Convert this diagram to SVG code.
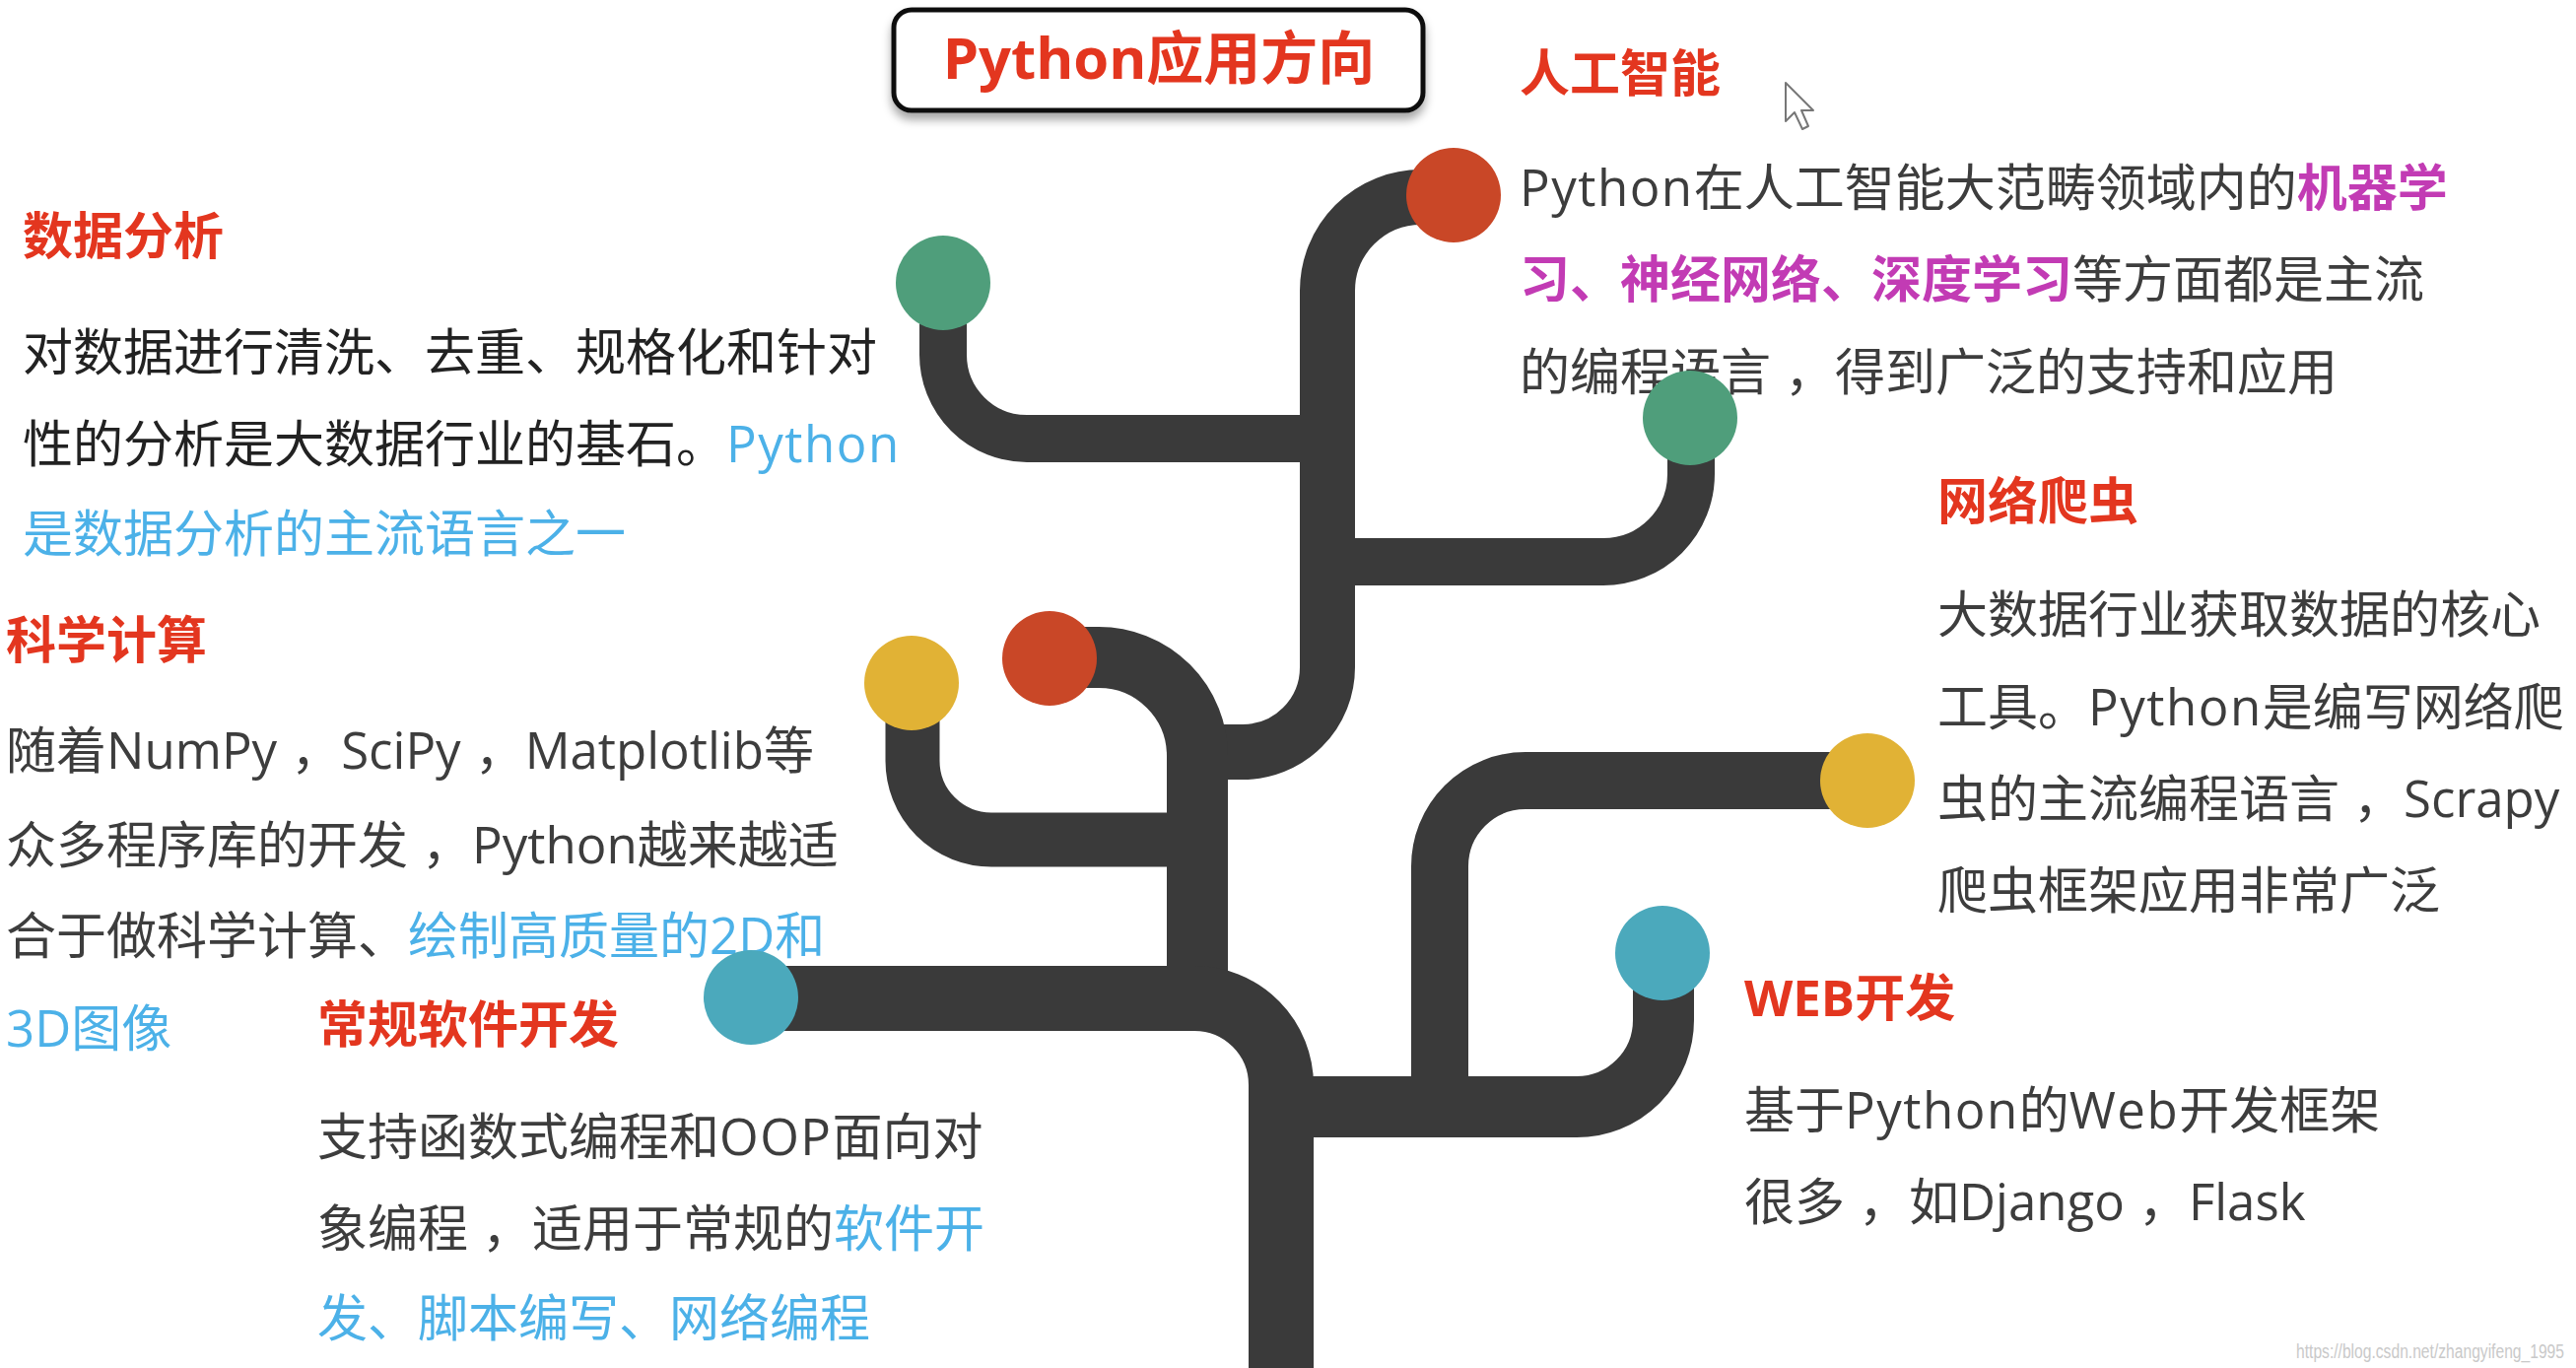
<svg xmlns="http://www.w3.org/2000/svg" width="2614" height="1388" viewBox="0 0 2614 1388">
<style>
  text { font-family: 'Open Sans', 'Noto Sans CJK SC', sans-serif; font-size: 51px; fill: #3d3d3d; }
  .h { font-weight: bold; fill: #e3361f; }
  .dark { fill: #222; }
  .blue { fill: #4cb1e8; }
  .pur { font-weight: bold; fill: #c23bb4; }
  .l { letter-spacing: 1.5px; }
  .br { fill: none; stroke: #3a3a3a; stroke-linecap: butt; stroke-linejoin: round; }
  .red { fill: #c94727; }
  .green { fill: #4f9e7b; }
  .yellow { fill: #e1b235; }
  .teal { fill: #4ba9bc; }
</style>
<defs>
  <filter id="shadow" x="-10%" y="-20%" width="120%" height="160%">
    <feDropShadow dx="0" dy="7" stdDeviation="5" flood-color="#000" flood-opacity="0.35"/>
  </filter>
</defs>
<rect width="2614" height="1388" fill="#ffffff"/>

<g id="title">
  <rect x="907" y="10" width="537" height="102" rx="18" fill="#fff" stroke="#111" stroke-width="5" filter="url(#shadow)"/>
  <text x="1176" y="80" text-anchor="middle" class="h" style="font-size:58px">Python应用方向</text>
</g>

<g id="node-ai">
  <text x="1542" y="93" class="h">人工智能</text>
  <text x="1542" y="209"><tspan class="l">Python</tspan>在人工智能大范畴领域内的<tspan class="pur">机器学</tspan></text>
  <text x="1542" y="302"><tspan class="pur">习、神经网络、深度学习</tspan>等方面都是主流</text>
  <text x="1542" y="396">的编程语言<tspan dx="14">，得到广泛的支持和应用</tspan></text>
</g>

<g id="node-data">
  <text x="23" y="258" class="h">数据分析</text>
  <text x="23" y="376" class="dark">对数据进行清洗、去重、规格化和针对</text>
  <text x="23" y="469" class="dark">性的分析是大数据行业的基石。<tspan class="blue l">Python</tspan></text>
  <text x="23" y="560" class="blue">是数据分析的主流语言之一</text>
</g>

<g id="node-science">
  <text x="6" y="668" class="h">科学计算</text>
  <text x="6" y="780">随着NumPy<tspan dx="14">，SciPy</tspan><tspan dx="14">，Matplotlib等</tspan></text>
  <text x="6" y="876">众多程序库的开发<tspan dx="14">，Python越来越适</tspan></text>
  <text x="6" y="968">合于做科学计算、<tspan class="blue">绘制高质量的2D和</tspan></text>
  <text x="6" y="1062" class="blue">3D图像</text>
</g>

<g id="node-software">
  <text x="322" y="1058" class="h">常规软件开发</text>
  <text x="322" y="1172">支持函数式编程和<tspan class="l">OOP</tspan>面向对</text>
  <text x="322" y="1265">象编程<tspan dx="14">，适用于常规的</tspan><tspan class="blue">软件开</tspan></text>
  <text x="322" y="1356" class="blue">发、脚本编写、网络编程</text>
</g>

<g id="node-crawler">
  <text x="1966" y="527" class="h">网络爬虫</text>
  <text x="1966" y="642">大数据行业获取数据的核心</text>
  <text x="1966" y="736">工具。<tspan class="l">Python</tspan>是编写网络爬</text>
  <text x="1966" y="829">虫的主流编程语言<tspan dx="14">，Scrapy</tspan></text>
  <text x="1966" y="922">爬虫框架应用非常广泛</text>
</g>

<g id="node-web">
  <text x="1770" y="1031" class="h">WEB开发</text>
  <text x="1770" y="1145">基于<tspan class="l">Python</tspan>的<tspan class="l">Web</tspan>开发框架</text>
  <text x="1770" y="1238">很多<tspan dx="14">，如Django</tspan><tspan dx="14">，Flask</tspan></text>
</g>

<g id="connectors">
  <path class="br" stroke-width="56" d="M 1475 200 L 1442 200 A 95 95 0 0 0 1347 295 L 1347 677 A 86 86 0 0 1 1261 763 L 1215 763"/>
  <path class="br" stroke-width="48" d="M 957 287 L 957 360 A 85 85 0 0 0 1042 445 L 1347 445"/>
  <path class="br" stroke-width="48" d="M 1716 424 L 1716 481 A 89 89 0 0 1 1627 570 L 1347 570"/>
  <path class="br" stroke-width="62" d="M 1065 667 L 1115 667 A 100 100 0 0 1 1215 767 L 1215 1013"/>
  <path class="br" stroke-width="55" d="M 926 693 L 926 772 A 80 80 0 0 0 1006 852 L 1215 852"/>
  <path class="br" stroke-width="66" d="M 762 1013 L 1212 1013 A 88 88 0 0 1 1300 1101 L 1300 1388"/>
  <path class="br" stroke-width="62" d="M 1300 1123 L 1600 1123 A 88 88 0 0 0 1688 1035 L 1688 967"/>
  <path class="br" stroke-width="58" d="M 1461 1123 L 1461 879 A 87 87 0 0 1 1548 792 L 1895 792"/>
</g>

<g id="dots">
  <circle id="dot-ai" class="red" cx="1475" cy="198" r="48"/>
  <circle id="dot-data" class="green" cx="957" cy="287" r="48"/>
  <circle id="dot-green-right" class="green" cx="1715" cy="424" r="48"/>
  <circle id="dot-red-mid" class="red" cx="1065" cy="668" r="48"/>
  <circle id="dot-science" class="yellow" cx="925" cy="693" r="48"/>
  <circle id="dot-software" class="teal" cx="762" cy="1012" r="48"/>
  <circle id="dot-web" class="teal" cx="1687" cy="967" r="48"/>
  <circle id="dot-crawler" class="yellow" cx="1895" cy="792" r="48"/>
</g>

<path d="M 1812 84 L 1812 123 L 1821 114 L 1829 131 L 1835 128 L 1828 112 L 1840 112 Z" fill="#fff" stroke="#777" stroke-width="2" stroke-linejoin="round"/>
<text x="2330" y="1378" style="font-family:'Liberation Sans',sans-serif;font-size:20px;fill:#c9c9c9" textLength="272" lengthAdjust="spacingAndGlyphs">https://blog.csdn.net/zhangyifeng_1995</text>
</svg>
